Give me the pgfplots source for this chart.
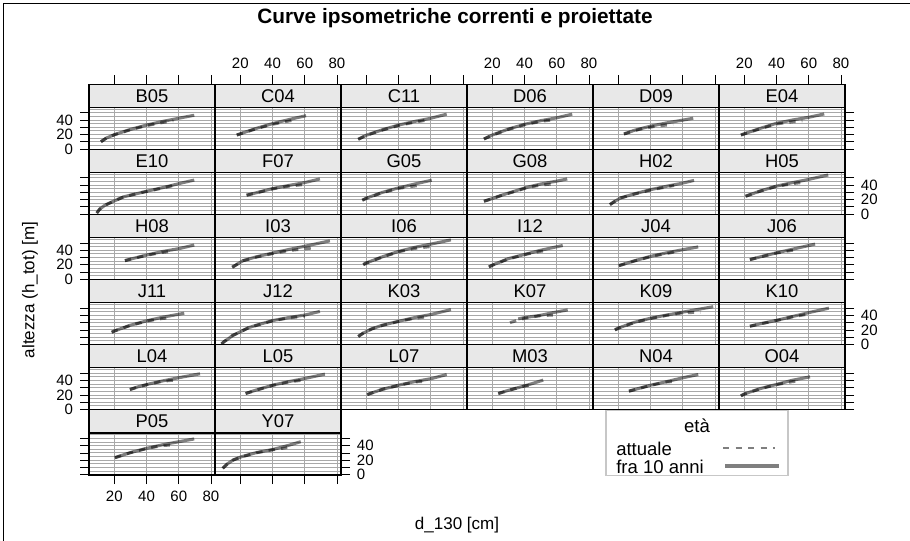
\documentclass[border=0pt]{standalone}
\usepackage{pgfplots}
\pgfplotsset{compat=1.18}
\usepackage{fontspec}
\setmainfont{Liberation Sans}

\definecolor{stripc}{HTML}{E8E8E8}
\definecolor{gridc}{HTML}{A8A8A8}

\newcommand\tickfont{\fontsize{11.25}{13}\selectfont}
\newcommand\stripfont{\fontsize{13.8}{16}\selectfont}
\newcommand\labfont{\fontsize{12.75}{15}\selectfont}
\newcommand\legfont{\fontsize{13.9}{16}\selectfont}

\tikzset{
  fut/.style={black, draw opacity=0.5, line width=2.3pt, line join=round},
  cur/.style={black, draw opacity=0.5, line width=2.2pt, dash pattern=on 4.8pt off 4.6pt},
}

\pgfplotsset{
  pan/.style={
    width=94.5pt, height=48.855pt, scale only axis, anchor=south west,
    xmin=4.3, xmax=82.5, ymin=-0.4, ymax=89.35,
    xtick={20,40,60,80}, xticklabels={20,40,60,80},
    ytick={0,10,...,50}, yticklabels={0,,20,,40,},
    minor ytick={5,15,...,55},
    xmajorgrids, ymajorgrids, yminorgrids,
    major grid style={gridc, line width=0.7pt},
    minor grid style={gridc, line width=0.7pt},
    minor tick length=0pt, major tick length=6.75pt, tick align=outside,
    axis line style={line width=0.9pt},
    tick style={black, line width=0.6pt},
    ticklabel style={font=\tickfont, inner sep=5pt},
    no markers,
  },
  xno/.style={xtick style={draw=none}, xticklabels={}},
  xt/.style={xtick pos=right, xticklabels={}},
  xtl/.style={xtick pos=right, xticklabel pos=right},
  xb/.style={xtick pos=left, xticklabels={}},
  xbl/.style={xtick pos=left},
  yno/.style={ytick style={draw=none}, yticklabels={}},
  yl/.style={ytick pos=left, yticklabels={}},
  yll/.style={ytick pos=left},
  yr/.style={ytick pos=right, yticklabels={}},
  yrl/.style={ytick pos=right, yticklabel pos=right},
}

% #1 column, #2 row, #3 name, #4 axis options, #5 fra 10 anni, #6 attuale
\newcommand{\panel}[6]{%
\begin{axis}[pan, at={({(89+126*#1)*0.75pt},{-(149.3+65.14*#2)*0.75pt})}, #4]
\addplot[fut] coordinates {#5};
\addplot[cur] coordinates {#6};
\draw[fill=stripc, line width=0.9pt] (rel axis cs:0,0.64476) rectangle (rel axis cs:1,1);
\node[font=\stripfont, inner sep=0pt] at (rel axis cs:0.5,0.8224) {#3};
\end{axis}}

\begin{document}
\begin{tikzpicture}
\path[use as bounding box] (0,0) rectangle (682.5pt,-405.75pt);

\begin{scope}[x=0.75pt,y=-0.75pt]
\draw[black!22, fill=white, line width=0.8pt] (606,410) rectangle (788,475.7);
\end{scope}

% row 1
\panel{0}{0}{B05}{xt, yll}
 {(11.7,10)(15,15)(20,19.8)(30,27)(40,33)(50,38)(60,42.4)(69.6,46.5)}
 {(11.7,10)(15,15)(20,19.5)(30,26.5)(40,32.2)(50,36.5)(56.6,39)}
\panel{1}{0}{C04}{xtl, yno}
 {(17.8,19.3)(20,21)(30,28.5)(40,35)(50,40.5)(60.8,45.9)}
 {(17.8,19.3)(20,20.8)(30,28)(40,34)(50,38.5)(54,40)}
\panel{2}{0}{C11}{xt, yno}
 {(15,13.4)(20,19)(30,26.5)(40,33)(50,38)(60,42.4)(69.9,48)}
 {(15,13.4)(20,18.8)(30,26)(40,32.3)(50,37)(59.5,40.5)}
\panel{3}{0}{D06}{xtl, yno}
 {(14.8,13.8)(20,19.3)(30,27.5)(40,34)(50,39)(60,43)(69.6,48)}
 {(14.8,13.8)(20,19)(30,27)(40,33.3)(50,38)(58.6,40.5)}
\panel{4}{0}{D09}{xt, yno}
 {(23.5,20.7)(30,25.8)(40,31.5)(50,36)(60,39.8)(66.5,42.4)}
 {(23.5,20.7)(33,27)(41.7,30.8)(51,33.3)(54,34)}
\panel{5}{0}{E04}{xtl, yr}
 {(17.9,19.3)(20,21)(30,28.5)(40,35.5)(50,40)(60,43.7)(69.6,48.3)}
 {(17.9,19.3)(20,20.8)(30,28)(40,34.5)(50,37.5)(56,38.6)}
% row 2
\panel{0}{1}{E10}{xno, yl}
 {(9.1,1.5)(11,7)(14,12)(19,17.3)(26,24)(40,31.5)(50,36.5)(60,42)(69.6,47)}
 {(9.1,1.5)(11,7)(14,12)(19,17.3)(26,24)(40,31.2)(50,36)(58.7,40.5)}
\panel{1}{1}{F07}{xno, yno}
 {(23.9,26.1)(30,29.5)(40,35.2)(50,39.5)(60,43.5)(69.4,48.5)}
 {(23.9,26.1)(30,29.3)(40,34.8)(50,38.5)(59,40.7)}
\panel{2}{1}{G05}{xno, yno}
 {(17.5,19.2)(20,22)(30,30)(40,36.2)(50,41.5)(60.6,46.8)}
 {(17.5,19.2)(20,21.8)(30,29.5)(40,35.5)(53.4,39.8)}
\panel{3}{1}{G08}{xno, yno}
 {(14.8,17.8)(20,21.5)(25,25.5)(30,29)(41.7,37.1)(50,41.5)(60,45.5)(66.5,48.5)}
 {(14.8,17.8)(20,21.3)(25,25.2)(30,28.6)(41.7,36.5)(50,40)(57.5,41.7)}
\panel{4}{1}{H02}{xno, yno}
 {(14.8,13.1)(17,16.5)(21.4,22.4)(30,28)(40.2,33.8)(50,38.5)(60,42.8)(67,46.5)}
 {(14.8,13.1)(17,16.5)(21.4,22.2)(30,27.6)(40.2,33.3)(50,37.5)(54.6,39.5)}
\panel{5}{1}{H05}{xno, yrl}
 {(20.8,24.7)(30,32)(39.7,38.5)(50,43.5)(59.4,47.6)(72.1,54)}
 {(20.8,24.7)(30,31.8)(39.7,38)(50,42)(57.3,44)}
% row 3
\panel{0}{2}{H08}{xno, yll}
 {(26.6,25.7)(30,27.8)(41,33.9)(50,38.3)(60.7,42.5)(69.6,47.2)}
 {(26.6,25.7)(30,27.6)(41,33.5)(50,37)(55.5,38.6)}
\panel{1}{2}{I03}{xno, yno}
 {(15,16.6)(21.7,25.7)(30,31)(40.3,36.3)(50,41)(60,45.5)(75.6,53)}
 {(15,16.6)(21.7,25.5)(30,30.5)(40.3,35.5)(50,39.5)(60,42)(65.5,43.2)}
\panel{2}{2}{I06}{xno, yno}
 {(18.1,20.2)(20,22.5)(30,31)(40.3,38.6)(50,44)(60.6,48.7)(72.5,54.3)}
 {(18.1,20.2)(20,22.3)(30,30.6)(40.3,38)(50,42.5)(61.6,45.5)}
\panel{3}{2}{I12}{xno, yno}
 {(17.9,17)(20,19.5)(30,28.5)(41.7,35.2)(50,40)(63.7,46.6)}
 {(17.9,17)(20,19.3)(30,28)(41.7,34.8)(50,38.5)(54.3,40)}
\panel{4}{2}{J04}{xno, yno}
 {(20.4,18.8)(30,25.5)(40.2,31.7)(50,36.5)(60,40.8)(69.6,44.6)}
 {(20.4,18.8)(30,25.2)(40.2,31.2)(50,35.5)(54.6,37.5)}
\panel{5}{2}{J06}{xno, yr}
 {(23.5,27.1)(30,31)(39.7,36.3)(50,41.5)(63.9,48.5)}
 {(23.5,27.1)(30,30.8)(39.7,36)(50,40)(52.5,40.8)}
% row 4
\panel{0}{3}{J11}{xno, yl}
 {(18.4,16.8)(20,18.5)(30,26.5)(41,33)(50,37.5)(63.4,43)}
 {(18.4,16.8)(20,18.4)(30,26.2)(41,32.5)(50,35.8)(55.3,36.6)}
\panel{1}{3}{J12}{xno, yno}
 {(8.4,0.7)(10,4)(12.5,7.6)(15,12)(18.6,15.9)(25,23)(30,26.5)(40.3,33)(50,37)(60,40.5)(69.4,45.5)}
 {(8.4,0.7)(10,4)(12.5,7.6)(15,12)(18.6,15.9)(25,22.8)(30,26.2)(40.3,32.6)(50,36.5)(60,39)}
\panel{2}{3}{K03}{xno, yno}
 {(15,10.9)(18,15.5)(23.3,21.4)(30,26.5)(40.3,32)(50,37)(60.6,41.5)(72.5,48)}
 {(15,10.9)(18,15.5)(23.3,21.2)(30,26.2)(40.3,31.8)(50,36)(59.5,38.5)}
\panel{3}{3}{K07}{xno, yno}
 {(36.1,35.2)(40,37)(49.4,39.9)(57,43.5)(66.8,47.6)}
 {(31,30)(36,33.5)(40,36)(49.4,39.5)(57.6,40.5)}
\panel{4}{3}{K09}{xno, yno}
 {(17.9,20)(20,22.5)(30,30.5)(40.2,36.2)(50,40.5)(59.8,44.4)(70,48.5)(78.9,52)}
 {(17.9,20)(20,22.3)(30,30.2)(40.2,35.8)(50,40)(59.8,43.5)(71,44.4)}
\panel{5}{3}{K10}{xno, yrl}
 {(23.5,25.1)(30,28.5)(39.7,33)(50,38.5)(59.4,43.5)(72.5,50)}
 {(23.5,25.1)(30,28.3)(39.7,32.8)(50,38)(58.4,41.3)}
% row 5
\panel{0}{4}{L04}{xno, yll}
 {(29.7,27.6)(35,31.5)(41,35)(50,39.5)(60.7,44.2)(73.2,49.3)}
 {(29.7,27.6)(35,31.3)(41,34.7)(50,39)(57.6,40.6)}
\panel{1}{4}{L05}{xno, yno}
 {(23.3,22.1)(30,27)(40.3,33.7)(50,38.5)(60,42.8)(72.5,48.8)}
 {(23.3,22.1)(30,26.8)(40.3,33.4)(50,38)(59,40.6)}
\panel{2}{4}{L07}{xno, yno}
 {(20.6,20.7)(30,28)(40.3,33.7)(50,38.5)(60.6,42.8)(69.9,48.3)}
 {(20.6,20.7)(30,27.8)(40.3,33.4)(50,38)(58.4,39.2)}
\panel{3}{4}{M03}{xno, yno}
 {(23.7,22.1)(30,26.5)(41.7,33.7)(51.6,40.6)}
 {(23.7,22.1)(30,26.3)(40,32.5)(45.3,34)}
\panel{4}{4}{N04}{xno, yno}
 {(26.6,25.4)(30,27.5)(40.2,33.7)(50,38.5)(59.8,43.7)(69.6,48.3)}
 {(26.6,25.4)(30,27.3)(40.2,33.4)(50,38)(53.6,38.5)}
\panel{5}{4}{O04}{xno, yr}
 {(17.9,18.9)(20,21.5)(30,29)(39.7,34.5)(50,40.5)(60.8,45.1)}
 {(17.9,18.9)(20,21.3)(30,28.7)(39.7,34.2)(50,38.5)(53.5,39.2)}
% row 6
\panel{0}{5}{P05}{xbl, yl}
 {(20.4,23.5)(30,30.5)(40.1,36.4)(50,41.3)(60.1,45.5)(69.6,49.3)}
 {(20.4,23.5)(30,30.3)(40.1,36)(50,40.3)(57.8,41)}
\panel{1}{5}{Y07}{xb, yrl}
 {(9.1,8.8)(12,15)(15.6,20.3)(20.8,24.8)(30,30.5)(40.6,35)(50,40.5)(57.5,45.5)}
 {(9.1,8.8)(12,15)(15.6,20.3)(20.8,24.6)(30,30.2)(40.6,34.5)(51,38)}

\begin{scope}[x=0.75pt,y=-0.75pt]
\draw[line width=0.75pt] (3,541) -- (3,3.5) -- (910,3.5);
\node[font=\fontsize{15.6}{18}\selectfont\bfseries] at (455,18.5) {Curve ipsometriche correnti e proiettate};
\node[rotate=90, font=\labfont] at (30,290) {altezza (h\_tot) [m]};
\node[font=\labfont] at (457,525) {d\_130 [cm]};
\node[font=\legfont] at (697,426) {età};
\node[font=\legfont, anchor=west, inner sep=0pt] at (616,449) {attuale};
\node[font=\legfont, anchor=west, inner sep=0pt] at (616,466.5) {fra 10 anni};
\draw[cur] (723,448) -- (775,448);
\draw[fut] (725,466) -- (779,466);
\end{scope}
\end{tikzpicture}
\end{document}
